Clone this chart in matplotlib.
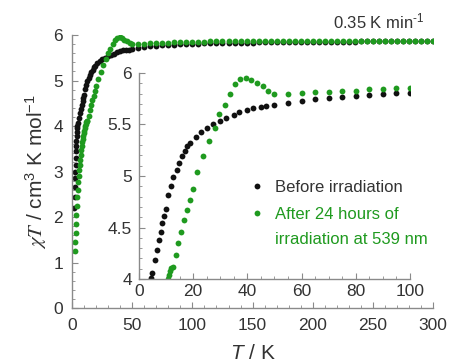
import numpy as np
import matplotlib
matplotlib.use('Agg')
import matplotlib.pyplot as plt
from matplotlib.ticker import MultipleLocator, FormatStrFormatter
from matplotlib.lines import Line2D

plt.rcParams['font.family'] = ['Liberation Sans', 'DejaVu Sans']
plt.rcParams['mathtext.fontset'] = 'custom'
plt.rcParams['mathtext.rm'] = 'Liberation Sans'
plt.rcParams['mathtext.it'] = 'Liberation Sans:italic'

# donnees (T en K, chiT en cm3 K mol-1)
T_before = [1.8, 2.0, 2.2, 2.4, 2.6, 2.8, 3.0, 3.2, 3.4, 3.6, 3.8, 4.0, 4.2, 4.4,
            4.7, 5.9, 6.8, 7.5, 8.1, 8.7, 9.3, 10.0, 10.8, 11.7, 12.7, 13.9, 14.9,
            15.9, 17.0, 17.8, 18.8, 21, 23, 25, 27.4, 30, 32, 35, 37, 40, 42, 45,
            47, 50, 55, 60, 65, 70, 75, 80, 85, 90, 95, 100,
            105, 110, 115, 120, 125, 130, 135, 140, 145, 150, 155, 160, 165, 170,
            175, 180, 185, 190, 195, 200, 205, 210, 215, 220, 225, 230, 235, 240,
            245, 250, 255, 260, 265, 270, 275, 280, 285, 290, 295, 300]
chiT_before = [2.2, 2.45, 2.65, 2.85, 3.0, 3.15, 3.3, 3.45, 3.57, 3.68, 3.78, 3.87, 3.95, 4.01,
               4.06, 4.18, 4.28, 4.38, 4.46, 4.54, 4.61, 4.68, 4.82, 4.9, 4.99, 5.06, 5.13,
               5.19, 5.24, 5.29, 5.32, 5.38, 5.43, 5.47, 5.50, 5.53, 5.56, 5.59, 5.62, 5.64, 5.66, 5.67,
               5.68, 5.69, 5.71, 5.73, 5.75, 5.76, 5.77, 5.78, 5.79, 5.80, 5.81, 5.81,
               5.81, 5.82, 5.82, 5.82, 5.82, 5.83, 5.83, 5.83, 5.83, 5.83, 5.84, 5.84, 5.84, 5.84,
               5.84, 5.84, 5.84, 5.85, 5.85, 5.85, 5.85, 5.85, 5.85, 5.85, 5.85, 5.85, 5.85, 5.86,
               5.86, 5.86, 5.86, 5.86, 5.86, 5.86, 5.86, 5.86, 5.86, 5.86, 5.86, 5.86]

T_after = [2.0, 2.4, 2.8, 3.2, 3.6, 4.0, 4.4, 4.8, 5.2, 5.6, 6.0, 6.4, 6.8, 7.2, 7.6,
           8.0, 8.4, 8.8, 9.2, 9.6, 10.0, 10.4, 10.8, 11.2, 11.6, 12.0,
           12.4, 13.7, 14.6, 15.7, 16.6, 17.8, 18.8, 19.8, 21.6, 23.7, 26, 28, 29.6,
           31.7, 33.6, 35.4, 37.3, 39.5, 41.2, 43.4, 45.6, 47.7, 49.8,
           55, 60, 65, 70, 75, 80, 85, 90, 95, 100,
           105, 110, 115, 120, 125, 130, 135, 140, 145, 150, 155, 160, 165, 170,
           175, 180, 185, 190, 195, 200, 205, 210, 215, 220, 225, 230, 235, 240,
           245, 250, 255, 260, 265, 270, 275, 280, 285, 290, 295, 300]
chiT_after = [1.25, 1.45, 1.65, 1.85, 2.05, 2.25, 2.43, 2.6, 2.76, 2.9, 3.03, 3.15, 3.26, 3.37, 3.47,
              3.56, 3.64, 3.72, 3.79, 3.85, 3.9, 3.95, 4.0, 4.04, 4.08, 4.11,
              4.12, 4.23, 4.35, 4.46, 4.57, 4.67, 4.77, 4.87, 5.04, 5.19, 5.34, 5.47, 5.60,
              5.69, 5.80, 5.89, 5.94, 5.95, 5.93, 5.90, 5.87, 5.83, 5.80,
              5.80, 5.81, 5.82, 5.82, 5.83, 5.83, 5.84, 5.84, 5.85, 5.85,
              5.85, 5.85, 5.86, 5.86, 5.86, 5.86, 5.86, 5.86, 5.86, 5.86, 5.87, 5.87, 5.87, 5.87,
              5.87, 5.87, 5.87, 5.87, 5.87, 5.87, 5.87, 5.87, 5.87, 5.87, 5.87, 5.87, 5.87, 5.87,
              5.87, 5.87, 5.87, 5.87, 5.87, 5.87, 5.87, 5.87, 5.87, 5.87, 5.87, 5.87]

label_before = 'Before irradiation'
label_after = ['After 24 hours of', 'irradiation at 539 nm']

black = '#111111'
green = '#1f9a1f'
gris = '#8a8a8a'
txt = '#333333'


def style_axes(ax, xmaj, xmin, ymaj, ymin, xpad, ypad):
    for s in ['top', 'right']:
        ax.spines[s].set_visible(False)
    for s in ['left', 'bottom']:
        ax.spines[s].set_color(gris)
        ax.spines[s].set_linewidth(1.0)
    ax.xaxis.set_major_locator(MultipleLocator(xmaj))
    ax.xaxis.set_minor_locator(MultipleLocator(xmin))
    ax.yaxis.set_major_locator(MultipleLocator(ymaj))
    ax.yaxis.set_minor_locator(MultipleLocator(ymin))
    ax.yaxis.set_major_formatter(FormatStrFormatter('%g'))
    ax.tick_params(which='both', direction='in', color=gris, labelsize=12.5,
                   labelcolor=txt, top=False, right=False)
    ax.tick_params(which='major', length=4)
    ax.tick_params(which='minor', length=2.5)
    ax.tick_params(axis='x', which='major', pad=xpad)
    ax.tick_params(axis='y', which='major', pad=ypad)
    ax.patch.set_alpha(0)


fig = plt.figure(figsize=(4.51, 3.63), dpi=100)

ax = fig.add_axes([0.160, 0.1515, 0.800, 0.752])
ax.plot(T_before, chiT_before, 'o', ms=4.2, color=black, mec='none')
ax.plot(T_after, chiT_after, 'o', ms=4.2, color=green, mec='none')
ax.set_xlim(0, 300)
ax.set_ylim(0, 6)
style_axes(ax, 50, 10, 1, 0.2, 7, 6.5)
ax.set_xlabel(r'$T$ / K', fontsize=15, color=txt, labelpad=8)
ax.set_ylabel(r'$\chi T$ / cm$\mathregular{^3}$ K mol$\mathregular{^{-1}}$', fontsize=15,
              color=txt, labelpad=3, math_fontfamily='stix')
ax.text(0.975, 1.015, '0.35 K min$^{\u2010 1}$', transform=ax.transAxes, ha='right', va='bottom',
        fontsize=12, color=txt)

# encart zoom basse temperature
axin = fig.add_axes([0.308, 0.2314, 0.601, 0.5675])
axin.plot(T_before, chiT_before, 'o', ms=4.2, color=black, mec='none')
axin.plot(T_after, chiT_after, 'o', ms=4.2, color=green, mec='none')
axin.set_xlim(0, 100)
axin.set_ylim(4, 6)
style_axes(axin, 20, 5, 0.5, 0.1, 3.5, 5)

handles = [Line2D([], [], ls='none', marker='o', ms=4.2, color=black, mec='none'),
           Line2D([], [], ls='none', marker='o', ms=4.2, color=green, mec='none')]
leg = axin.legend(handles, [label_before, label_after[0]], loc='upper left',
                  bbox_to_anchor=(0.405, 0.48), frameon=False, fontsize=12,
                  handletextpad=0.55, labelspacing=0.7, handlelength=1.0,
                  borderaxespad=0, borderpad=0)
for t, c in zip(leg.get_texts(), [txt, green]):
    t.set_color(c)

# deuxieme ligne du label vert, sous la premiere
fig.canvas.draw()
bb = leg.get_texts()[1].get_window_extent()
x0, y0 = fig.transFigure.inverted().transform((bb.x0, bb.y0 - 25))
fig.text(x0, y0, label_after[1], fontsize=12, color=green, ha='left', va='bottom')

fig.savefig('out.png', dpi=100)
